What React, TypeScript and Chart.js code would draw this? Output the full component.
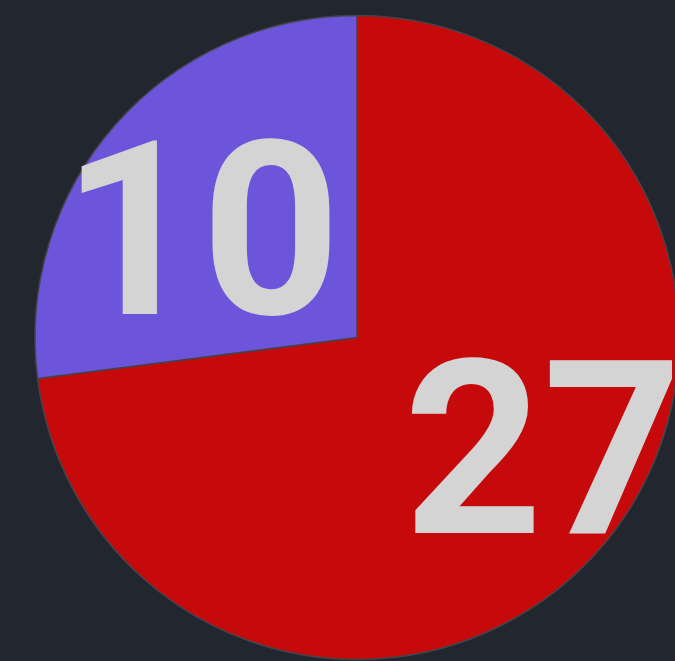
import React, { useEffect, useRef } from "react";
import { Chart, registerables } from "chart.js";

Chart.register(...registerables);

const categories = ["A", "B"];
const values = [27, 10];
const sliceColors = ["#c60a0b", "#6d55db"];
const labelDX = [65, -35];
const labelDY = [28, 22];

const valueLabels = {
  id: "valueLabels",
  afterDatasetsDraw(chart: any) {
    const ctx = chart.ctx;
    const meta = chart.getDatasetMeta(0);
    ctx.save();
    ctx.fillStyle = "#d4d4d4";
    ctx.font = "bold 243px Roboto";
    ctx.textAlign = "center";
    ctx.textBaseline = "middle";
    meta.data.forEach((arc: any, i: number) => {
      const p = arc.getCenterPoint();
      ctx.fillText(String(values[i]), p.x + labelDX[i], p.y + labelDY[i]);
    });
    ctx.restore();
  },
};

export default function App() {
  const ref = useRef<HTMLCanvasElement | null>(null);
  useEffect(() => {
    document.documentElement.style.background = "#22272f";
    document.body.style.background = "#22272f";
    document.body.style.margin = "0";
    document.documentElement.style.overflow = "hidden";
    const chart = new Chart(ref.current!, {
      type: "pie",
      data: {
        labels: categories,
        datasets: [
          {
            data: values,
            backgroundColor: sliceColors,
            borderColor: "#44454c",
            borderWidth: 1.5,
          },
        ],
      },
      options: {
        responsive: false,
        animation: false,
        radius: 322,
        layout: { padding: { left: 39, top: 14, right: 0, bottom: 0 } },
        plugins: { legend: { display: false }, tooltip: { enabled: false } },
      },
      plugins: [valueLabels],
    });
    return () => chart.destroy();
  }, []);
  return (
    <div style={{ width: 675, height: 661 }}>
      <canvas ref={ref} width={675} height={661} style={{ display: "block" }} />
    </div>
  );
}
